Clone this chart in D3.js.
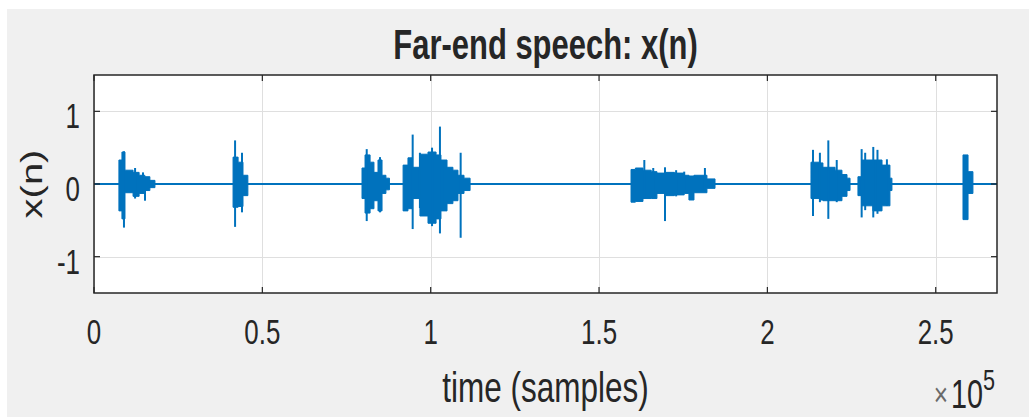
<!DOCTYPE html>
<html lang="en">
<head>
<meta charset="UTF-8"/>
<title>Far-end speech</title>
<script src="https://d3js.org/d3.v7.min.js"></script>
<style>
    body { margin: 0; background: #fff; }
    text { font-family: "Liberation Sans", Arial, sans-serif; fill: #262626; }
    .grid { stroke: #dfdfdf; stroke-width: 1; shape-rendering: crispedges; }
    .tick-mark { stroke: #262626; stroke-width: 1.2; }
</style>
</head>
<body>
<script>
    // chart text
    const title = "Far-end speech: x(n)";
    const xLabel = "time (samples)";
    const yLabel = "x(n)";

    // axes
    const xDomain = [0, 268200];
    const yDomain = [-1.5, 1.5];
    const xTicks = [0, 50000, 100000, 150000, 200000, 250000];
    const xTickLabels = ["0", "0.5", "1", "1.5", "2", "2.5"];
    const yTicks = [-1, 0, 1];
    const yTickLabels = ["-1", "0", "1"];

    // speech bursts: [sample, max, min], each row holds until the next one
    const burst1 = [[7400, 0.33, -0.37], [8300, 0.44, -0.48], [9200, 0.19, -0.12], [11600, 0.16, -0.17],
        [13400, 0.12, -0.13], [15100, 0.10, -0.09], [16600, 0.05, -0.05], [18100, 0, 0]];
    const burst2 = [[41300, 0.37, -0.32], [42800, 0.30, -0.31], [44250, 0.12, -0.16], [45700, 0, 0]];
    const burst3 = [[79600, 0.22, -0.20], [80500, 0.40, -0.40], [82000, 0.30, -0.34], [83150, 0.16, -0.23],
        [84350, 0.33, -0.37], [85550, 0.12, -0.13], [86700, 0.08, -0.08], [87750, 0, 0]];
    const burst4 = [[91800, 0.26, -0.37], [93250, 0.36, -0.34], [94450, 0.23, -0.20], [96800, 0.41, -0.44],
        [99200, 0.44, -0.54], [101600, 0.40, -0.48], [103050, 0.33, -0.37], [104850, 0.23, -0.27],
        [106600, 0.19, -0.23], [108100, 0.12, -0.13], [109900, 0.08, -0.09], [111700, 0, 0]];
    const burst5 = [[159500, 0.20, -0.25], [160800, 0.22, -0.24], [163050, 0.19, -0.20], [165500, 0.17, -0.20],
        [167200, 0.15, -0.13], [169600, 0.16, -0.16], [172400, 0.15, -0.15], [175300, 0.12, -0.13],
        [176700, 0.11, -0.22], [178200, 0.12, -0.12], [182050, 0.07, -0.06], [184450, 0, 0]];
    const burst6 = [[212950, 0.30, -0.20], [215600, 0.29, -0.22], [216500, 0.23, -0.23], [220100, 0.19, -0.23],
        [222150, 0.13, -0.17], [223650, 0.08, -0.09], [224550, 0, 0]];
    const burst7 = [[226900, 0.10, -0.16], [228100, 0.33, -0.30], [231350, 0.33, -0.37], [234050, 0.26, -0.30],
        [236400, 0.08, -0.09], [237000, 0, 0]];
    const burst8 = [[258100, 0.40, -0.49], [259600, 0.17, -0.13], [261050, 0, 0]];

    // single tall peaks: [sample, max, min]
    const spikes = [
        [8900, 0.45, -0.60], [12200, 0.22, -0.20], [14550, 0.16, -0.10], [15150, 0.10, -0.23],
        [41900, 0.60, -0.59], [43950, 0.43, -0.39],
        [81000, 0.48, -0.51], [84950, 0.37, -0.39],
        [94650, 0.68, -0.62], [96800, 0.43, -0.33], [100400, 0.50, -0.58], [102750, 0.79, -0.68],
        [104200, 0.33, -0.30], [108900, 0.43, -0.74],
        [163450, 0.33, -0.20], [166100, 0.22, -0.18], [169600, 0.23, -0.51], [172900, 0.19, -0.17],
        [175300, 0.17, -0.12], [181450, 0.22, -0.10],
        [213550, 0.47, -0.44], [215600, 0.43, -0.25], [218100, 0.60, -0.48], [220600, 0.33, -0.25],
        [228000, 0.48, -0.46], [229050, 0.43, -0.36], [231450, 0.51, -0.46], [232700, 0.47, -0.41],
        [235500, 0.34, -0.30]
    ];

    const bursts = [burst1, burst2, burst3, burst4, burst5, burst6, burst7, burst8];

    const width = 1029, height = 417;
    const mLeft = 94, mRight = 997, mTop = 75, mBottom = 293;
    const sx = 0.72; // text in the picture is narrow
    const blue = "#0072bd";

    const svg = d3.select("body").append("svg")
        .attr("width", width)
        .attr("height", height);

    svg.append("rect")
        .attr("x", 7).attr("y", 9)
        .attr("width", width - 7).attr("height", height - 9)
        .attr("fill", "#f0f0f0");

    const x = d3.scaleLinear().domain(xDomain).range([mLeft, mRight]);
    const y = d3.scaleLinear().domain(yDomain).range([mBottom, mTop]);

    svg.append("rect")
        .attr("x", mLeft).attr("y", mTop)
        .attr("width", mRight - mLeft).attr("height", mBottom - mTop)
        .attr("fill", "#fff");

    // grid
    svg.append("g").selectAll("line").data(xTicks).enter().append("line")
        .attr("class", "grid")
        .attr("x1", d => Math.round(x(d)) + 0.5).attr("x2", d => Math.round(x(d)) + 0.5)
        .attr("y1", mTop).attr("y2", mBottom);
    svg.append("g").selectAll("line").data(yTicks).enter().append("line")
        .attr("class", "grid")
        .attr("x1", mLeft).attr("x2", mRight)
        .attr("y1", d => Math.round(y(d)) + 0.5).attr("y2", d => Math.round(y(d)) + 0.5);

    // signal
    const plot = svg.append("g");
    plot.append("line")
        .attr("x1", x(xDomain[0])).attr("x2", x(xDomain[1]))
        .attr("y1", y(0)).attr("y2", y(0))
        .attr("stroke", blue).attr("stroke-width", 2);

    const area = d3.area()
        .x(d => x(d[0]))
        .y0(d => y(d[2]))
        .y1(d => y(d[1]))
        .curve(d3.curveStepAfter);

    plot.selectAll("path.burst").data(bursts).enter().append("path")
        .attr("class", "burst")
        .attr("d", area)
        .attr("fill", blue)
        .attr("stroke", blue)
        .attr("stroke-width", 1);

    plot.selectAll("line.spike").data(spikes).enter().append("line")
        .attr("class", "spike")
        .attr("x1", d => x(d[0])).attr("x2", d => x(d[0]))
        .attr("y1", d => y(d[1])).attr("y2", d => y(d[2]))
        .attr("stroke", blue).attr("stroke-width", 2);

    // ticks on all four sides, pointing in
    const tl = 6;
    const ticks = svg.append("g");
    xTicks.forEach(t => {
        ticks.append("line").attr("class", "tick-mark")
            .attr("x1", x(t)).attr("x2", x(t)).attr("y1", mBottom).attr("y2", mBottom - tl);
        ticks.append("line").attr("class", "tick-mark")
            .attr("x1", x(t)).attr("x2", x(t)).attr("y1", mTop).attr("y2", mTop + tl);
    });
    yTicks.forEach(t => {
        ticks.append("line").attr("class", "tick-mark")
            .attr("x1", mLeft).attr("x2", mLeft + tl).attr("y1", y(t)).attr("y2", y(t));
        ticks.append("line").attr("class", "tick-mark")
            .attr("x1", mRight).attr("x2", mRight - tl).attr("y1", y(t)).attr("y2", y(t));
    });

    svg.append("rect")
        .attr("x", mLeft).attr("y", mTop)
        .attr("width", mRight - mLeft).attr("height", mBottom - mTop)
        .attr("fill", "none")
        .attr("stroke", "#262626")
        .attr("stroke-width", 1.5);

    // labels
    function label(txt, px, py, size, anchor, sxx) {
        return svg.append("text")
            .attr("transform", `translate(${px},${py}) scale(${sxx || sx},1)`)
            .attr("text-anchor", anchor)
            .style("font-size", size + "px")
            .text(txt);
    }

    xTicks.forEach((t, i) => label(xTickLabels[i], x(t), 344, 36, "middle"));
    yTicks.forEach((t, i) => label(yTickLabels[i], 80, y(t) + 17, 36, "end"));

    label(title, (mLeft + mRight) / 2, 59, 43, "middle").style("font-weight", "bold");
    label(xLabel, (mLeft + mRight) / 2, 402, 42, "middle", 0.75);

    label("\u00d7", 948, 406, 34, "end").style("fill", "#6a6a6a");
    label("10", 983, 408, 40, "end");
    label("5", 983, 390, 30, "start");

    svg.append("text")
        .attr("transform", `translate(42,${y(0)}) rotate(-90) scale(1,${sx})`)
        .attr("text-anchor", "middle")
        .style("font-size", "40px")
        .text(yLabel);
</script>
</body>
</html>
